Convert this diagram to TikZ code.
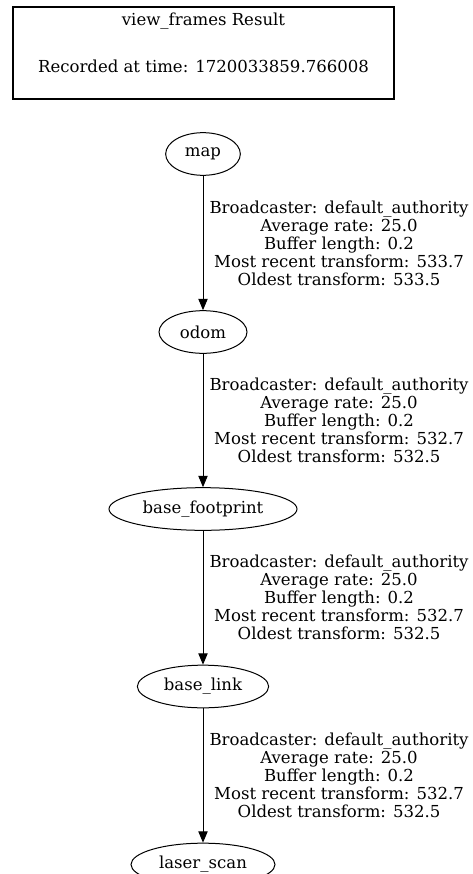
\documentclass[tikz,border=0pt]{standalone}
\usepackage{fontspec}
\setmainfont{DejaVu Serif}
\usetikzlibrary{arrows.meta,shapes.geometric}
\begin{document}
\begin{tikzpicture}[x=0.75pt,y=-0.75pt,
  txt/.style={font=\fontsize{12.4pt}{13.5pt}\selectfont},
  frame/.style={ellipse,draw,line width=0.75pt,inner sep=0pt,minimum height=32pt,txt},
  edgearrow/.style={draw,line width=0.75pt,-{Triangle[length=8.5pt,width=7pt]}},
  lbl/.style={align=center,anchor=west,inner sep=0pt,xshift=4.5pt,txt}]
\useasboundingbox (0,0) rectangle (472,874);
\clip (0,0) rectangle (472,874);
\node[draw,line width=1.5pt,minimum width=285.75pt,minimum height=69pt,inner sep=0pt] (title) at (203.5,53) {};
\node[txt,inner sep=0pt] (t1) at (203.5,21) {view\_frames Result};
\node[txt,inner sep=0pt] (t2) at (203.5,66) {Recorded at time: 1720033859.766008};
\node[frame,minimum width=56pt] (map) at (203,154) {map};
\node[frame,minimum width=66pt] (odom) at (203,332) {odom};
\node[frame,minimum width=141pt] (bf) at (203,509) {base\_footprint};
\node[frame,minimum width=98.5pt] (bl) at (203,686.5) {base\_link};
\node[frame,minimum width=108pt] (ls) at (203,864.5) {laser\_scan};
\draw[edgearrow] (map) -- node[lbl] {Broadcaster: default\_authority\\Average rate: 25.0\\Buffer length: 0.2\\Most recent transform: 533.7\\Oldest transform: 533.5} (odom);
\draw[edgearrow] (odom) -- node[lbl] {Broadcaster: default\_authority\\Average rate: 25.0\\Buffer length: 0.2\\Most recent transform: 532.7\\Oldest transform: 532.5} (bf);
\draw[edgearrow] (bf) -- node[lbl] {Broadcaster: default\_authority\\Average rate: 25.0\\Buffer length: 0.2\\Most recent transform: 532.7\\Oldest transform: 532.5} (bl);
\draw[edgearrow] (bl) -- node[lbl] {Broadcaster: default\_authority\\Average rate: 25.0\\Buffer length: 0.2\\Most recent transform: 532.7\\Oldest transform: 532.5} (ls);
\end{tikzpicture}
\end{document}
